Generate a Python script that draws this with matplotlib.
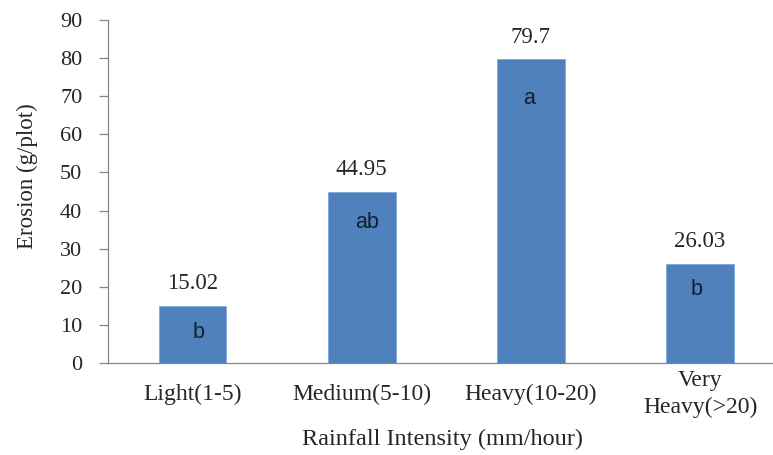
import matplotlib
matplotlib.use("Agg")
import matplotlib.pyplot as plt

categories = ["Light(1-5)", "Medium(5-10)", "Heavy(10-20)", "Very\nHeavy(>20)"]
erosion = [15.02, 44.95, 79.7, 26.03]
letters = ["b", "ab", "a", "b"]
y_ticks = [0, 10, 20, 30, 40, 50, 60, 70, 80, 90]

# style: letter offsets (pixels below bar top) and horizontal nudges (pixels)
letter_drop = [27, 31, 39, 26]
letter_nudge = [6, 5, -2, -4]

W, H = 773, 455
fig = plt.figure(figsize=(W/100, H/100), dpi=100)
ax = fig.add_axes([108/W, 1-363/H, (784.7-108)/W, (363-20)/H])

x = list(range(len(categories)))
ax.bar(x, erosion, width=0.4, color="#4F81BD", edgecolor="#7FA6D6", linewidth=0.6, zorder=3)

serif = ["Liberation Serif", "DejaVu Serif"]
sans = ["Liberation Sans", "DejaVu Sans"]
txt = "#262626"

for xi, v, lt, d, n in zip(x, erosion, letters, letter_drop, letter_nudge):
    ax.annotate(f"{v:g}", (xi, v), xytext=(0, 22), textcoords="offset pixels",
                ha="center", va="center", fontsize=16.5, family=serif, color="#262626")
    ax.annotate(lt, (xi, v), xytext=(n, -d), textcoords="offset pixels",
                ha="center", va="center", fontsize=15.5, family=sans, color="#141E2E")

ax.set_xlim(-0.5, 3.5)
ax.set_ylim(0, 90)
ax.set_yticks(y_ticks)
ax.set_xticks(x)
ax.set_xticklabels(categories, family=serif, fontsize=17, color=txt, linespacing=1.3)
for lab in ax.get_xticklabels():
    lab.set_va("center")
ax.set_yticklabels([str(t) for t in y_ticks], family=serif, fontsize=16, color=txt)

for s in ["top", "right"]:
    ax.spines[s].set_visible(False)
for s in ["left", "bottom"]:
    ax.spines[s].set_color("#868686")
    ax.spines[s].set_linewidth(0.9)

ax.tick_params(axis="y", direction="out", length=6.5, width=0.9, color="#868686", pad=12)
ax.tick_params(axis="x", length=0, pad=31*0.72)

ax.set_ylabel("Erosion (g/plot)", family=serif, fontsize=16.5, color=txt)
ax.yaxis.label.set_va("center")
ax.yaxis.set_label_coords((27-108)/(784.7-108), (363-176.5)/343)

ax.set_xlabel("Rainfall Intensity (mm/hour)", family=serif, fontsize=17.5, color=txt)
ax.xaxis.label.set_va("center")
ax.xaxis.set_label_coords((443-108)/(784.7-108), (363-439)/343)

fig.savefig("out.png", dpi=100)
